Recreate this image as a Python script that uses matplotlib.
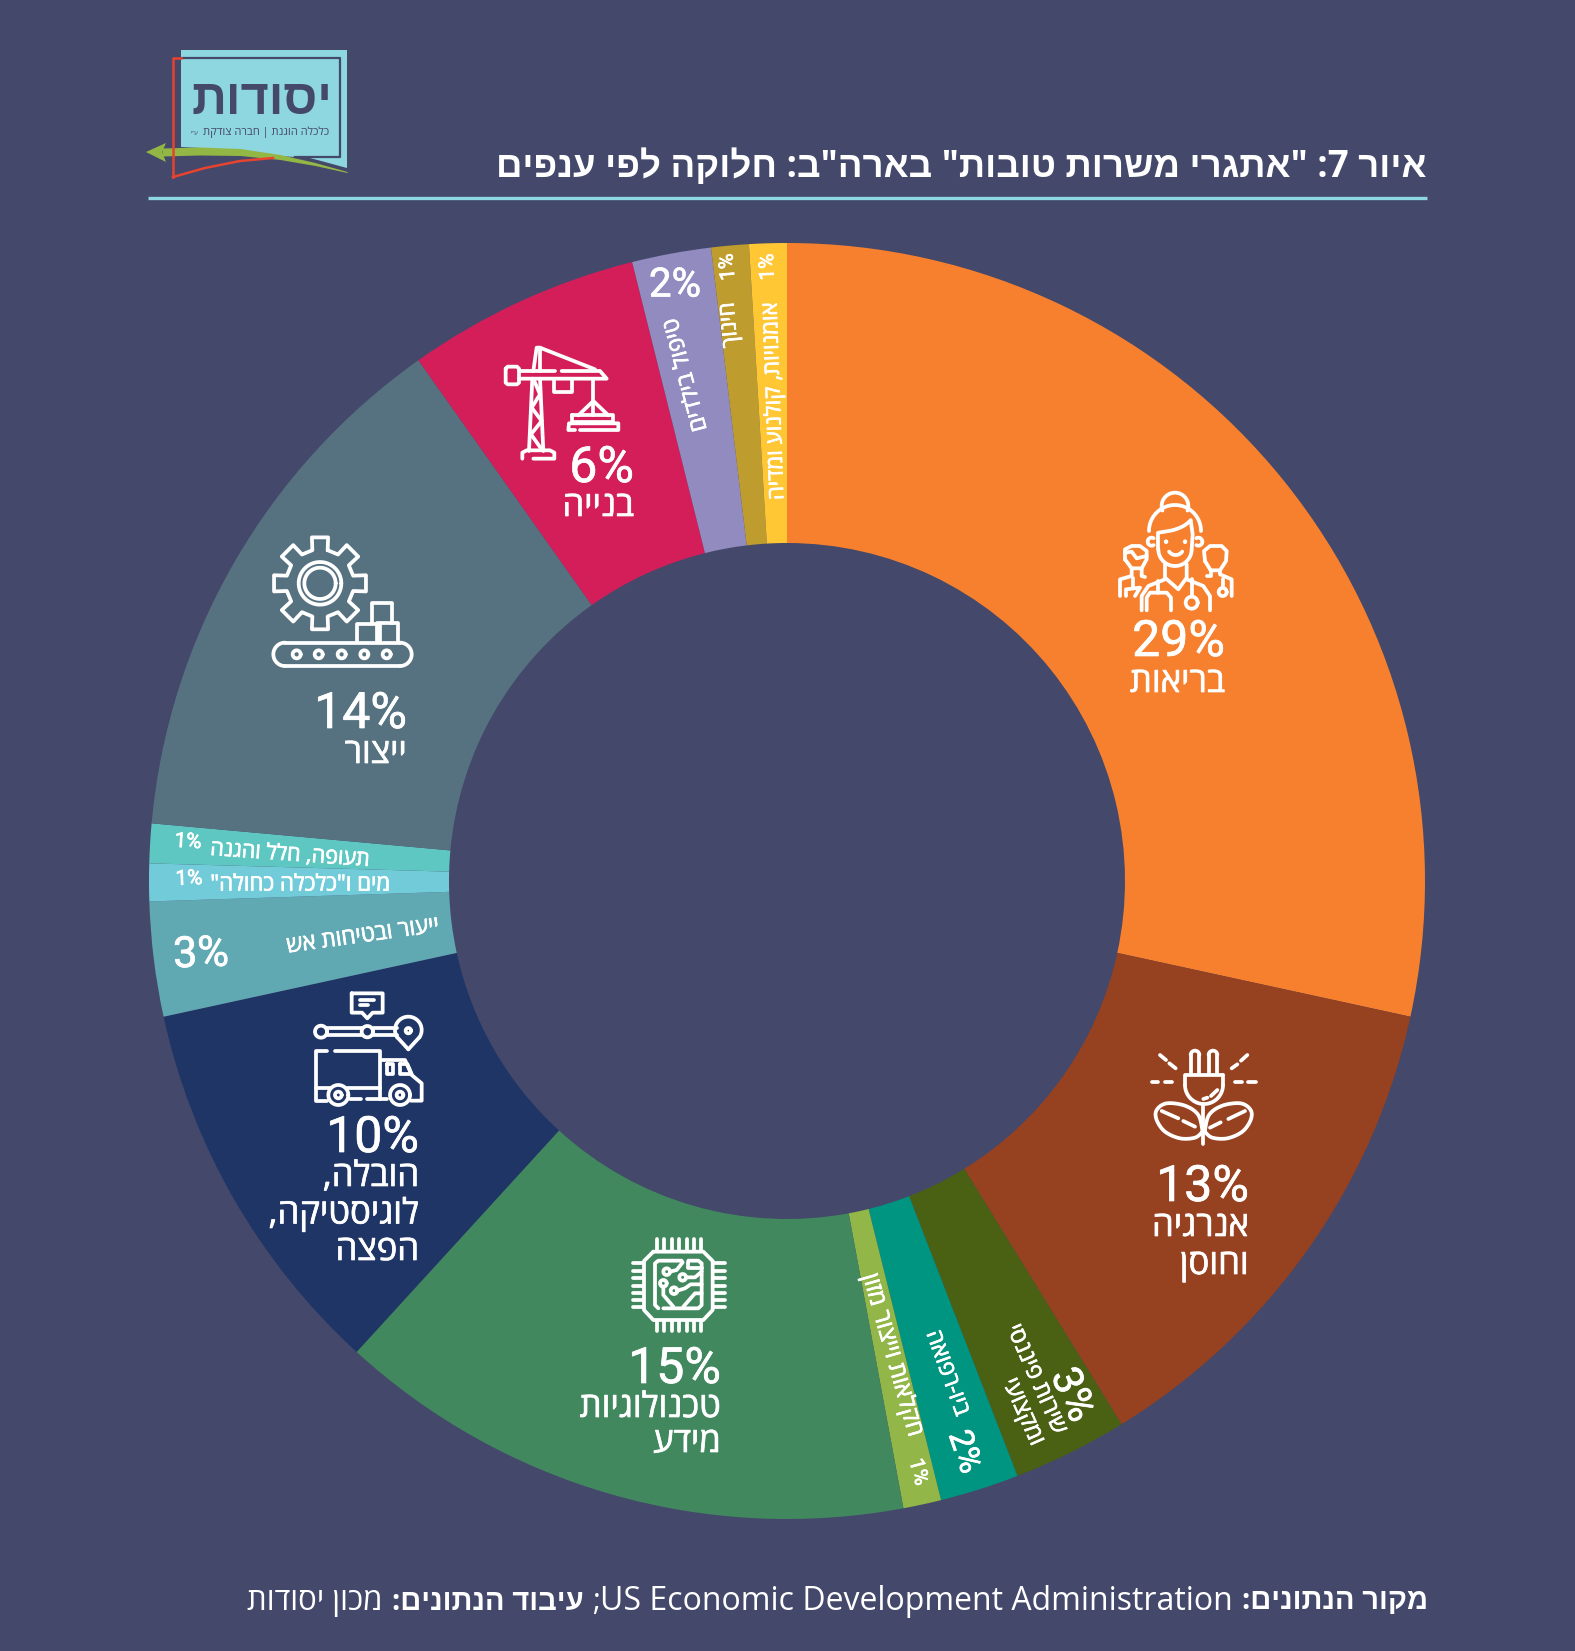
import numpy as np
import matplotlib
matplotlib.use("Agg")
from matplotlib import pyplot as plt
from matplotlib.patches import Polygon
from matplotlib import patheffects as pe

W, H = 1575, 1651
BG = "#44486A"
HEB = ["Open Sans", "Liberation Sans", "DejaVu Sans"]
NUM = ["Roboto", "DejaVu Sans"]

# share of each branch, clockwise from 12 o'clock
values = [28.4, 12.8, 2.9, 2.0, 0.96, 14.7, 9.8, 2.9, 0.95, 1.0, 13.75, 5.9, 2.0, 0.95, 0.95]
colors = ["#F7802F", "#964120", "#4A6113", "#009580", "#92B648", "#41885F", "#1E3566", "#60A8B2",
          "#72CBD9", "#5FC7C2", "#567280", "#D41E5A", "#918BC0", "#BE9C2E", "#FFC734"]
pct_labels = ["29%", "13%", "3%", "2%", "1%", "15%", "10%", "3%", "1%", "1%", "14%", "6%", "2%", "1%", "1%"]
names = [["בריאות"], ["אנרגיה", "וחוסן"], ["שירות פיננסי", "ומקצועי"], ["ביו-רפואה"], ["חקלאות וייצור מזון"],
         ["טכנולוגיות", "מידע"], ["הובלה,", "לוגיסטיקה,", "הפצה"], ["ייעור ובטיחות אש"],
         ['מים ו"כלכלה כחולה"'], ["תעופה, חלל והגנה"], ["ייצור"], ["בנייה"],
         ["טיפול בילדים"], ["חינוך"], ["אומנויות, קולנוע ומדיה"]]

title = 'איור 7: "אתגרי משרות טובות" בארה"ב: חלוקה לפי ענפים'


def rtl(s):
    # no bidi in matplotlib: write the string in visual order
    return s[::-1]


fig = plt.figure(figsize=(W / 100, H / 100), dpi=100, facecolor=BG)
pie_ax = fig.add_axes([0, 0, 1, 1])
pie_ax.set_facecolor(BG)
pie_ax.pie(values, colors=colors, startangle=90, counterclock=False, center=(787, H - 881), radius=638,
           wedgeprops={"width": 300, "linewidth": 0}, frame=True)
pie_ax.set_xlim(0, W)
pie_ax.set_ylim(0, H)
pie_ax.axis("off")

ax = fig.add_axes([0, 0, 1, 1])
ax.patch.set_alpha(0)
ax.set_xlim(0, W)
ax.set_ylim(H, 0)
ax.axis("off")

thick = [pe.withStroke(linewidth=0.5, foreground="white")]


def heb(x, y, s, size, rot=0, ha="center", weight="normal", color="white", stroke=True):
    t = ax.text(x, y, rtl(s), fontsize=size, rotation=rot, ha=ha, va="center", family=HEB,
                weight=weight, color=color, rotation_mode="anchor")
    if stroke and weight == "normal":
        t.set_path_effects(thick)
    return t


def num(x, y, s, size, rot=0, ha="center"):
    return ax.text(x, y, s, fontsize=size, rotation=rot, ha=ha, va="center", family=NUM,
                   color="white", rotation_mode="anchor", path_effects=thick)


# big labels with an icon
big = {0: (1225, 642, [683]), 1: (1249, 1187, [1227, 1265]), 5: (721, 1369, [1408, 1443]),
       6: (419, 1138, [1177, 1214, 1251]), 10: (407, 714, [754]), 11: (634, 468, [507])}
for i, (x, y, ys) in big.items():
    num(x, y, pct_labels[i], 36, ha="right")
    for line, ly in zip(names[i], ys):
        heb(x, ly, line, 25, ha="right")

# small sectors, text set along the slice
num(675, 285, pct_labels[12], 29)
heb(686, 375, names[12][0], 16.5, rot=105)
num(728, 267, pct_labels[13], 15, rot=95)
heb(730, 325, names[13][0], 16, rot=95)
num(768, 267, pct_labels[14], 15, rot=92)
heb(774, 401, names[14][0], 16, rot=92)
num(1072, 1395, pct_labels[2], 30, rot=-66)
heb(1036, 1379, names[2][0], 16.5, rot=-66)
heb(1023, 1412, names[2][1], 16.5, rot=-66)
num(964, 1452, pct_labels[3], 24, rot=-71)
heb(947, 1373, names[3][0], 16.5, rot=-70)
num(918, 1472, pct_labels[4], 15, rot=-75)
heb(892, 1355, names[4][0], 17, rot=-74)
num(201, 955, pct_labels[7], 31, rot=2)
heb(363, 936, names[7][0], 16.3, rot=8)
num(189, 879, pct_labels[8], 15, rot=2)
heb(300, 885, names[8][0], 16, rot=0)
num(188, 842, pct_labels[9], 15, rot=-3)
heb(290, 855, names[9][0], 15.5, rot=-4)

# heading and rule
heb(1427, 167, title, 26.4, ha="right", weight="bold")
ax.plot([148, 1427], [198, 198], color="#8ED6E0", lw=2.4, solid_capstyle="butt")

# footer, placed piece by piece from the right
renderer = fig.canvas.get_renderer()
x = 1428
footer = [("מקור הנתונים:", "bold", True, 21), (" ", "normal", False, 0),
          ("US Economic Development Administration", "normal", False, 23), (";", "normal", False, 22), (" ", "normal", False, 0),
          ("עיבוד הנתונים:", "bold", True, 21), (" ", "normal", False, 0), ("מכון יסודות", "normal", True, 22.5)]
for piece, weight, is_heb, size in footer:
    if piece == " ":
        x -= 9
        continue
    t = ax.text(x, 1602, rtl(piece) if is_heb else piece, fontsize=size, ha="right", va="center", family=HEB,
                weight=weight, color="white")
    x -= t.get_window_extent(renderer).width


# icons, drawn in the pixel grid of a 3x crop
class Icon:
    def __init__(self, ox, oy, lw=2.7):
        self.ox, self.oy, self.lw = ox, oy, lw

    def line(self, *pts, closed=False):
        p = np.array(pts, dtype=float)
        if closed:
            p = np.vstack([p, p[:1]])
        ax.plot(self.ox + p[:, 0] / 3, self.oy + p[:, 1] / 3, color="white", lw=self.lw,
                solid_capstyle="round", solid_joinstyle="round")

    def arc(self, x, y, r, a1=0, a2=360):
        a = np.radians(np.linspace(a1, a2, 48))
        self.line(*zip(x + r * np.cos(a), y - r * np.sin(a)))

    def smooth(self, *pts):
        p = np.array(pts, dtype=float)
        t = np.linspace(0, len(p) - 1, 15 * (len(p) - 1) + 1)
        i = np.minimum(t.astype(int), len(p) - 2)
        u = (t - i)[:, None]
        p0, p1, p2, p3 = p[np.maximum(i - 1, 0)], p[i], p[i + 1], p[np.minimum(i + 2, len(p) - 1)]
        c = 0.5 * (2 * p1 + (p2 - p0) * u + (2 * p0 - 5 * p1 + 4 * p2 - p3) * u ** 2 + (3 * p1 - p0 - 3 * p2 + p3) * u ** 3)
        self.line(*c)


# health
a = Icon(1090, 481)
a.arc(255, 75, 40, -20, 200)
a.arc(255, 150, 78, 0, 180)
a.smooth((205, 155), (250, 147), (282, 134), (302, 118))
a.line((302, 118), (308, 160), (305, 205))
a.line((205, 155), (205, 205))
a.arc(255, 205, 50, 180, 360)
a.arc(185, 182, 12, 60, 300)
a.arc(325, 182, 12, -120, 120)
a.arc(228, 182, 1)
a.arc(285, 182, 1)
a.arc(257, 198, 24, 215, 325)
a.line((225, 250), (225, 290), (265, 325), (290, 290), (290, 250))
a.line((225, 295), (175, 315), (155, 345), (155, 388))
a.line((290, 295), (340, 315), (360, 345), (360, 388))
a.line((205, 300), (205, 335))
a.line((170, 388), (170, 350), (180, 335), (230, 335), (243, 350), (243, 388))
a.line((305, 295), (305, 345))
a.arc(305, 365, 18)
a.line((105, 235), (105, 205), (125, 195), (150, 195), (170, 210), (170, 235), (155, 262), (125, 262), (105, 235))
a.line((105, 215), (125, 212), (140, 232), (170, 225))
a.line((125, 262), (125, 285), (90, 295), (90, 345))
a.line((155, 262), (155, 285), (165, 288))
a.line((130, 290), (130, 320))
a.line((108, 345), (108, 325), (150, 320), (135, 345))
a.line((345, 240), (342, 210), (360, 195), (395, 195), (410, 210), (408, 240), (390, 268), (362, 268), (345, 240))
a.line((362, 268), (362, 285), (350, 285))
a.line((390, 268), (390, 280), (425, 295), (425, 345))
a.line((398, 295), (398, 320))
a.arc(398, 333, 12)

# energy
b = Icon(1130, 1035)
for x0 in (182, 236):
    b.line((x0, 118), (x0, 60))
    b.arc(x0 + 13, 60, 13, 0, 180)
    b.line((x0 + 26, 60), (x0 + 26, 118))
b.line((280, 120), (165, 120), (165, 150))
b.arc(222, 150, 57, 180, 360)
b.line((280, 150), (280, 120))
b.line((220, 192), (232, 188))
b.line((243, 183), (262, 165))
b.line((220, 207), (220, 328))
for seg in [((90, 60), (108, 75)), ((118, 85), (137, 100)), ((352, 60), (333, 77)), ((322, 88), (305, 100)),
            ((65, 140), (85, 140)), ((105, 140), (125, 140)), ((315, 140), (335, 140)), ((355, 140), (378, 140))]:
    b.line(*seg)
leaf = [(218, 290), (205, 240), (165, 212), (110, 205), (80, 225), (80, 255), (105, 290), (150, 310), (195, 308), (218, 290)]
b.smooth(*leaf)
b.smooth(*[(442 - px, py) for px, py in leaf])
for seg in [((95, 228), (145, 250)), ((160, 258), (195, 275)), ((345, 228), (295, 252)), ((272, 262), (240, 278))]:
    b.line(*seg)

# chip
c = Icon(620, 1225)
c.line((100, 80), (250, 80), (278, 108), (278, 255), (250, 285), (100, 285), (72, 255), (72, 108), closed=True)
for px in (110, 132, 155, 178, 200, 222, 243):
    c.line((px, 42), (px, 78))
    c.line((px, 287), (px, 318))
for py in (115, 137, 160, 183, 205, 225, 245):
    c.line((38, py), (70, py))
    c.line((280, py), (315, py))
c.line((115, 250), (105, 240), (105, 115), (115, 107), (185, 107))
c.line((205, 107), (235, 107), (245, 115), (245, 240), (235, 250), (130, 250))
for cx, cy in [(140, 140), (188, 157), (130, 175), (162, 197)]:
    c.arc(cx, cy, 10)
c.line((150, 140), (170, 135), (188, 112))
c.line((198, 157), (225, 157), (245, 140))
c.line((205, 110), (205, 130), (245, 130))
c.line((130, 185), (130, 210), (160, 245))
c.line((172, 197), (195, 190), (212, 178), (245, 178))
c.line((190, 245), (225, 205), (245, 205))

# truck
d = Icon(300, 980)
d.line((155, 40), (248, 40), (248, 98), (218, 98), (202, 115), (186, 98), (155, 98), closed=True)
d.line((180, 60), (222, 60))
d.line((180, 75), (205, 75))
d.arc(63, 155, 18)
d.arc(202, 155, 17)
for y0 in (145, 165):
    d.line((80, y0), (185, y0))
    d.line((220, y0), (290, y0))
d.arc(325, 152, 8)
d.line((325, 208), (292, 172))
d.arc(325, 150, 40, -35, 215)
d.line((358, 172), (325, 208))
d.line((80, 212), (48, 212), (48, 362), (82, 362))
d.line((105, 212), (240, 212), (240, 358))
d.line((48, 325), (90, 325))
d.line((140, 325), (240, 325))
d.line((150, 358), (182, 358))
d.line((200, 358), (262, 358))
d.line((245, 240), (315, 240), (335, 285), (365, 310), (365, 362), (332, 362))
d.line((262, 252), (280, 252), (280, 282), (262, 282), closed=True)
d.line((300, 252), (322, 252), (335, 282), (300, 282), closed=True)
for cx in (115, 300):
    d.arc(cx, 345, 30)
    d.arc(cx, 345, 10)

# gear and conveyor
e = Icon(260, 526)
ang = []
for k in range(8):
    m = 90 + 45 * k
    ang += [(m - 13, 102), (m - 10, 140), (m + 10, 140), (m + 13, 102)]
e.line(*[(180 + r * np.cos(np.radians(t)), 172 - r * np.sin(np.radians(t))) for t, r in ang], closed=True)
e.arc(180, 172, 47)
e.arc(180, 172, 64)
e.line((290, 345), (290, 295), (352, 295), (352, 345))
e.line((352, 292), (415, 292), (415, 345))
e.line((360, 295), (360, 345))
e.line((335, 290), (335, 230), (395, 230), (395, 290))
e.line((75, 350), (420, 350))
e.arc(420, 385, 35, -90, 90)
e.line((420, 420), (75, 420))
e.arc(75, 385, 35, 90, 270)
for px in (110, 176, 245, 313, 380):
    e.arc(px, 385, 12)

# crane
f = Icon(495, 336)
f.line((32, 98), (38, 92), (66, 92), (72, 98), (72, 140), (66, 145), (38, 145), (32, 140), closed=True)
f.line((72, 105), (180, 105))
f.line((200, 105), (315, 105), (335, 128), (72, 128))
f.line((115, 105), (125, 35), (135, 35), (135, 105))
f.line((135, 35), (300, 100))
f.line((112, 128), (102, 345))
f.line((135, 128), (145, 345))
f.line((118, 135), (135, 175), (110, 215), (140, 255), (108, 295), (140, 340))
f.line((82, 368), (82, 350), (95, 343), (165, 343), (178, 350), (178, 368), (115, 368))
f.line((178, 130), (178, 168), (232, 168), (232, 130))
f.line((295, 128), (295, 195))
f.line((250, 238), (295, 195), (340, 238))
f.line((295, 195), (295, 238))
f.line((232, 238), (355, 238), (355, 258), (232, 258), closed=True)
f.line((255, 282), (370, 282), (370, 262), (222, 262), (220, 282), (240, 282))

# logo
ax.add_patch(Polygon([(181, 50), (347, 50), (347, 168), (310, 158), (280, 156), (240, 150), (181, 147)],
                     fc="#8ED6E0", ec="none"))
ax.plot([181, 340, 340, 295], [58, 58, 157, 157], color=BG, lw=1.6)
ax.plot([181, 173, 173], [58, 58, 177], color="#E8432F", lw=1.8)
red_x = np.array([173, 205, 240, 273])
red_y = np.array([177, 168, 161, 158])
ax.plot(red_x, red_y, color="#E8432F", lw=1.8)
green_x = np.array([162, 200, 240, 280, 315, 347])
green_y = np.array([152, 151, 152, 157, 164, 172])
ax.fill_between(green_x, green_y - np.array([4, 4, 3.5, 2.5, 1.5, 0.5]), green_y + np.array([4, 4, 3.5, 2.5, 1.5, 0.5]),
                color="#93B745", lw=0)
ax.add_patch(Polygon([(146, 152), (166, 143), (162, 152), (166, 162)], fc="#93B745", ec="none"))
heb(332, 101, "יסודות", 35, ha="right", weight="bold", color=BG)
heb(329, 132, "כלכלה הוגנת | חברה צודקת", 8, ha="right", color=BG, stroke=False)
heb(194, 133, 'ע"י', 4.5, color=BG, stroke=False)

fig.savefig("out.png", dpi=100, facecolor=BG)
